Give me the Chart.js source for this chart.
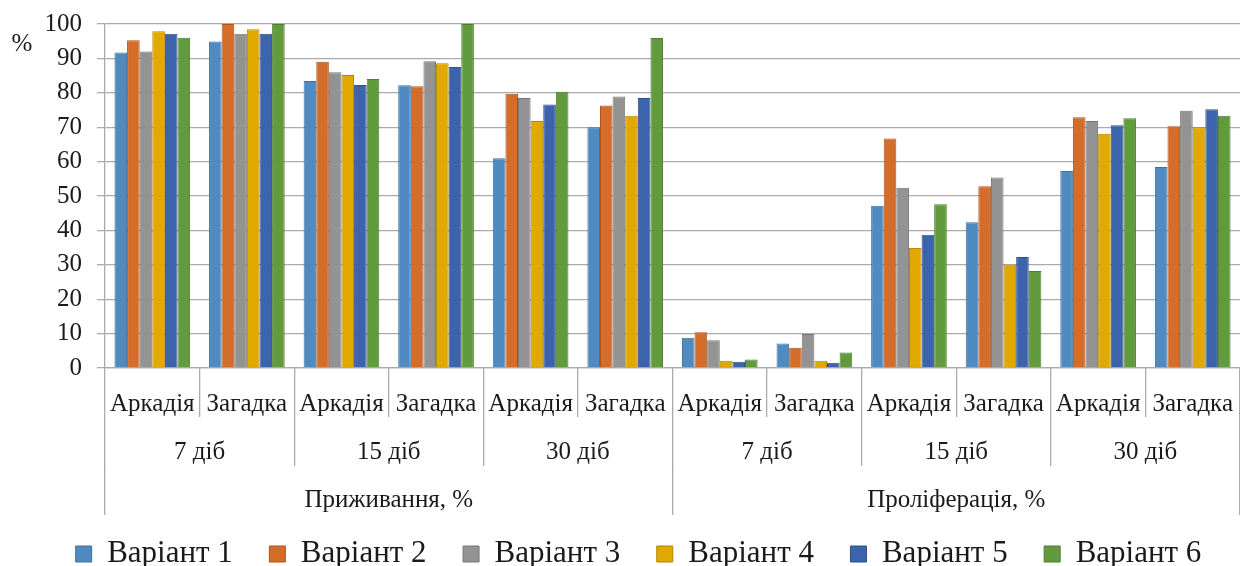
<!DOCTYPE html>
<html>
<head>
<meta charset="utf-8">
<script src="https://cdn.jsdelivr.net/npm/chart.js@4"></script>
<style>
html,body{margin:0;padding:0;background:#fff;}
#wrap{width:1240px;height:566px;position:relative;}
</style>
</head>
<body>
<div id="wrap"><canvas id="c"></canvas></div>
<script>
// ---- data ----
const varieties = ['Аркадія','Загадка','Аркадія','Загадка','Аркадія','Загадка','Аркадія','Загадка','Аркадія','Загадка','Аркадія','Загадка'];
const periods = ['7 діб','15 діб','30 діб','7 діб','15 діб','30 діб'];
const indicators = ['Приживання, %','Проліферація, %'];
const seriesNames = ['Варіант 1','Варіант 2','Варіант 3','Варіант 4','Варіант 5','Варіант 6'];
const variant1 = [91.7, 94.9, 83.4, 82.2, 61.0, 70.0, 8.8, 7.1, 47.2, 42.4, 57.3, 58.4];
const variant2 = [95.3, 100, 89.0, 81.9, 79.7, 76.3, 10.4, 5.9, 66.7, 52.8, 72.9, 70.3];
const variant3 = [92.0, 97.2, 86.0, 89.2, 78.5, 78.9, 8.1, 9.9, 52.4, 55.4, 71.8, 74.8];
const variant4 = [97.9, 98.5, 85.2, 88.6, 71.8, 73.3, 2.1, 2.1, 34.9, 30.1, 68.1, 70.0];
const variant5 = [97.2, 97.2, 82.3, 87.5, 76.6, 78.5, 1.8, 1.5, 38.7, 32.3, 70.6, 75.2];
const variant6 = [96.0, 100, 84.0, 100, 80.3, 95.9, 2.5, 4.5, 47.6, 28.2, 72.6, 73.3];

const fills   = ['#4F8BC1','#D46D2A','#939393','#E1A800','#3B64AD','#629B3E'];
const borders = ['#41719C','#A9561F','#767676','#B48600','#2F4F8A','#4E7C31'];
const allSeries = [variant1,variant2,variant3,variant4,variant5,variant6];

const FONT = "'Liberation Serif','Times New Roman',serif";
const TXT = '#1a1a1a';
const GRID = '#ABABAB';

const percentPlugin = {
  id:'percentLabel',
  afterDraw(chart){
    const ctx = chart.ctx;
    ctx.save();
    ctx.font = '25px ' + FONT;
    ctx.fillStyle = TXT;
    ctx.textAlign = 'center';
    ctx.textBaseline = 'middle';
    ctx.fillText('%', 22, 44);
    ctx.restore();
  }
};

new Chart(document.getElementById('c'), {
  type:'bar',
  data:{
    labels: varieties,
    datasets: allSeries.map((d,i)=>({
      label: seriesNames[i],
      data: d,
      backgroundColor: fills[i],
      borderColor: borders[i],
      borderWidth: 1,
      categoryPercentage: 0.8,
      barPercentage: 1.0
    }))
  },
  options:{
    responsive:true,
    maintainAspectRatio:false,
    animation:false,
    layout:{padding:{top:24,left:37,right:0,bottom:0}},
    plugins:{
      tooltip:{enabled:false},
      legend:{
        position:'bottom',
        maxHeight:64,
        labels:{
          font:{family:FONT,size:31},
          color:TXT,
          boxWidth:16,
          boxHeight:16,
          padding:36.5
        }
      }
    },
    scales:{
      y:{
        min:0,max:100,
        afterFit(s){ s.width = 68; s.paddingTop = 0; s.paddingBottom = 0; },
        ticks:{stepSize:10,font:{family:FONT,size:25},color:TXT,padding:15},
        grid:{color:GRID,lineWidth:1.3,tickLength:8},
        border:{display:true,color:GRID,width:1.3}
      },
      x:{
        type:'category',
        weight:1,
        offset:true,
        afterFit(s){ s.height = 49; },
        grid:{offset:true,drawOnChartArea:false,color:GRID,lineWidth:1.3,tickLength:49},
        border:{display:true,color:GRID,width:1.3},
        ticks:{font:{family:FONT,size:25},color:TXT,padding:-28,maxRotation:0,autoSkip:false}
      },
      x2:{
        type:'category',
        position:'bottom',
        weight:2,
        labels: periods,
        offset:true,
        afterFit(s){ s.height = 48; },
        grid:{offset:true,drawOnChartArea:false,color:GRID,lineWidth:1.3,tickLength:49},
        border:{display:false},
        ticks:{font:{family:FONT,size:25},color:TXT,padding:-29,maxRotation:0,autoSkip:false}
      },
      x3:{
        type:'category',
        position:'bottom',
        weight:3,
        labels: indicators,
        offset:true,
        afterFit(s){ s.height = 37; },
        grid:{offset:true,drawOnChartArea:false,color:GRID,lineWidth:1.3,tickLength:50},
        border:{display:false},
        ticks:{font:{family:FONT,size:25},color:TXT,mirror:true,padding:-50,maxRotation:0,autoSkip:false}
      }
    }
  },
  plugins:[percentPlugin]
});
</script>
</body>
</html>
